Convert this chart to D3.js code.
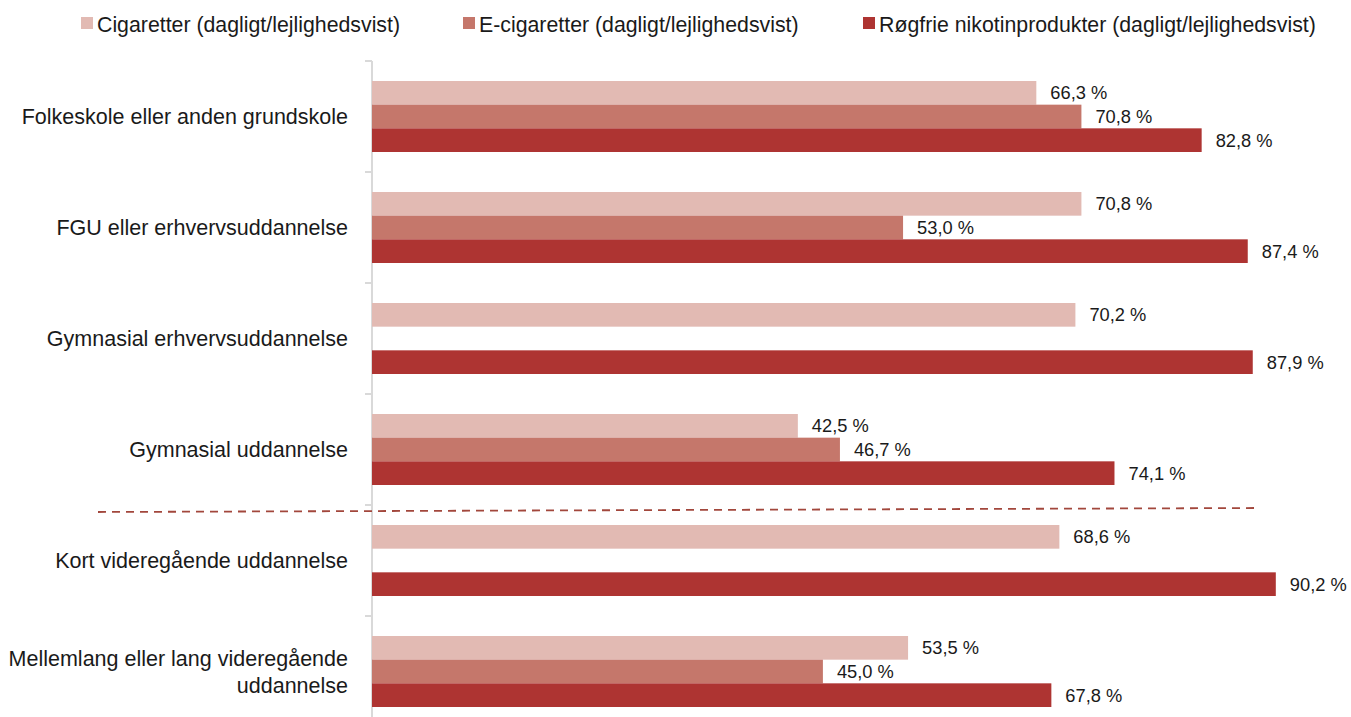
<!DOCTYPE html>
<html><head><meta charset="utf-8">
<script src="https://cdn.jsdelivr.net/npm/d3@7"></script>
<style>
html,body{margin:0;padding:0;background:#fff;}
svg{display:block;font-family:"Liberation Sans",Arial,sans-serif;}
</style></head>
<body>
<svg id="chart" width="1351" height="717"></svg>
<script>
const categories = [
  ["Folkeskole eller anden grundskole"],
  ["FGU eller erhvervsuddannelse"],
  ["Gymnasial erhvervsuddannelse"],
  ["Gymnasial uddannelse"],
  ["Kort videregående uddannelse"],
  ["Mellemlang eller lang videregående", "uddannelse"]
];
const seriesNames = [
  "Cigaretter (dagligt/lejlighedsvist)",
  "E-cigaretter (dagligt/lejlighedsvist)",
  "Røgfrie nikotinprodukter (dagligt/lejlighedsvist)"
];
const cigaretter = [66.3, 70.8, 70.2, 42.5, 68.6, 53.5];
const eCigaretter = [70.8, 53.0, null, 46.7, null, 45.0];
const roegfrie = [82.8, 87.4, 87.9, 74.1, 90.2, 67.8];
const colors = ["#E2BAB3", "#C5776B", "#AE3432"];

const svg = d3.select("#chart");
const catKeys = categories.map(c => c.join(" "));
const seriesVals = [cigaretter, eCigaretter, roegfrie];

const x = d3.scaleLinear().domain([0, 100]).range([372, 1374]);
const y = d3.scaleBand().domain(catKeys).range([61, 727]).padding(0);
const inner = d3.scaleBand().domain(seriesNames).range([20, y.bandwidth() - 20]).padding(0);

// axis line and ticks
svg.append("line").attr("x1", 372).attr("x2", 372).attr("y1", y.range()[0]).attr("y2", 717)
  .attr("stroke", "#d9d9d9").attr("stroke-width", 2);
svg.selectAll("line.tick").data(catKeys).join("line").attr("class", "tick")
  .attr("x1", 365).attr("x2", 372).attr("y1", d => y(d)).attr("y2", d => y(d))
  .attr("stroke", "#d9d9d9").attr("stroke-width", 2);

// bars
const data = [];
catKeys.forEach((c, i) => seriesNames.forEach((s, j) => {
  const v = seriesVals[j][i];
  if (v != null) data.push({c, s, v, j});
}));
svg.selectAll("rect.bar").data(data).join("rect").attr("class", "bar")
  .attr("x", x(0)).attr("y", d => y(d.c) + inner(d.s))
  .attr("width", d => x(d.v) - x(0)).attr("height", inner.bandwidth())
  .attr("fill", d => colors[d.j]);

// value labels
svg.selectAll("text.val").data(data).join("text").attr("class", "val")
  .attr("x", d => x(d.v) + 14).attr("y", d => y(d.c) + inner(d.s) + inner.bandwidth() / 2)
  .attr("dy", "0.36em").attr("font-size", 18.3).attr("fill", "#1a1a1a")
  .text(d => d.v.toFixed(1).replace(".", ",") + " %");

// category labels
categories.forEach((lines, i) => {
  const cy = y(catKeys[i]) + y.bandwidth() / 2;
  const lh = 27;
  const t = svg.append("text").attr("text-anchor", "end").attr("font-size", 21.5).attr("fill", "#1a1a1a");
  lines.forEach((l, k) => {
    t.append("tspan").attr("x", 348)
      .attr("y", cy + (k - (lines.length - 1) / 2) * lh).attr("dy", "0.36em").text(l);
  });
});

// dashed separator
const sepY = y(catKeys[4]);
svg.append("line").attr("x1", 98).attr("x2", 1256).attr("y1", sepY + 7).attr("y2", sepY + 3)
  .attr("stroke", "#A2473C").attr("stroke-width", 1.8).attr("stroke-dasharray", "8,6");

// legend
const legX = [81, 463, 863];
seriesNames.forEach((s, j) => {
  svg.append("rect").attr("x", legX[j]).attr("y", 17).attr("width", 12).attr("height", 12).attr("fill", colors[j]);
  svg.append("text").attr("x", legX[j] + 16).attr("y", 24).attr("dy", "0.36em")
    .attr("font-size", 21.3).attr("fill", "#1a1a1a").text(s);
});
</script>
</body></html>
